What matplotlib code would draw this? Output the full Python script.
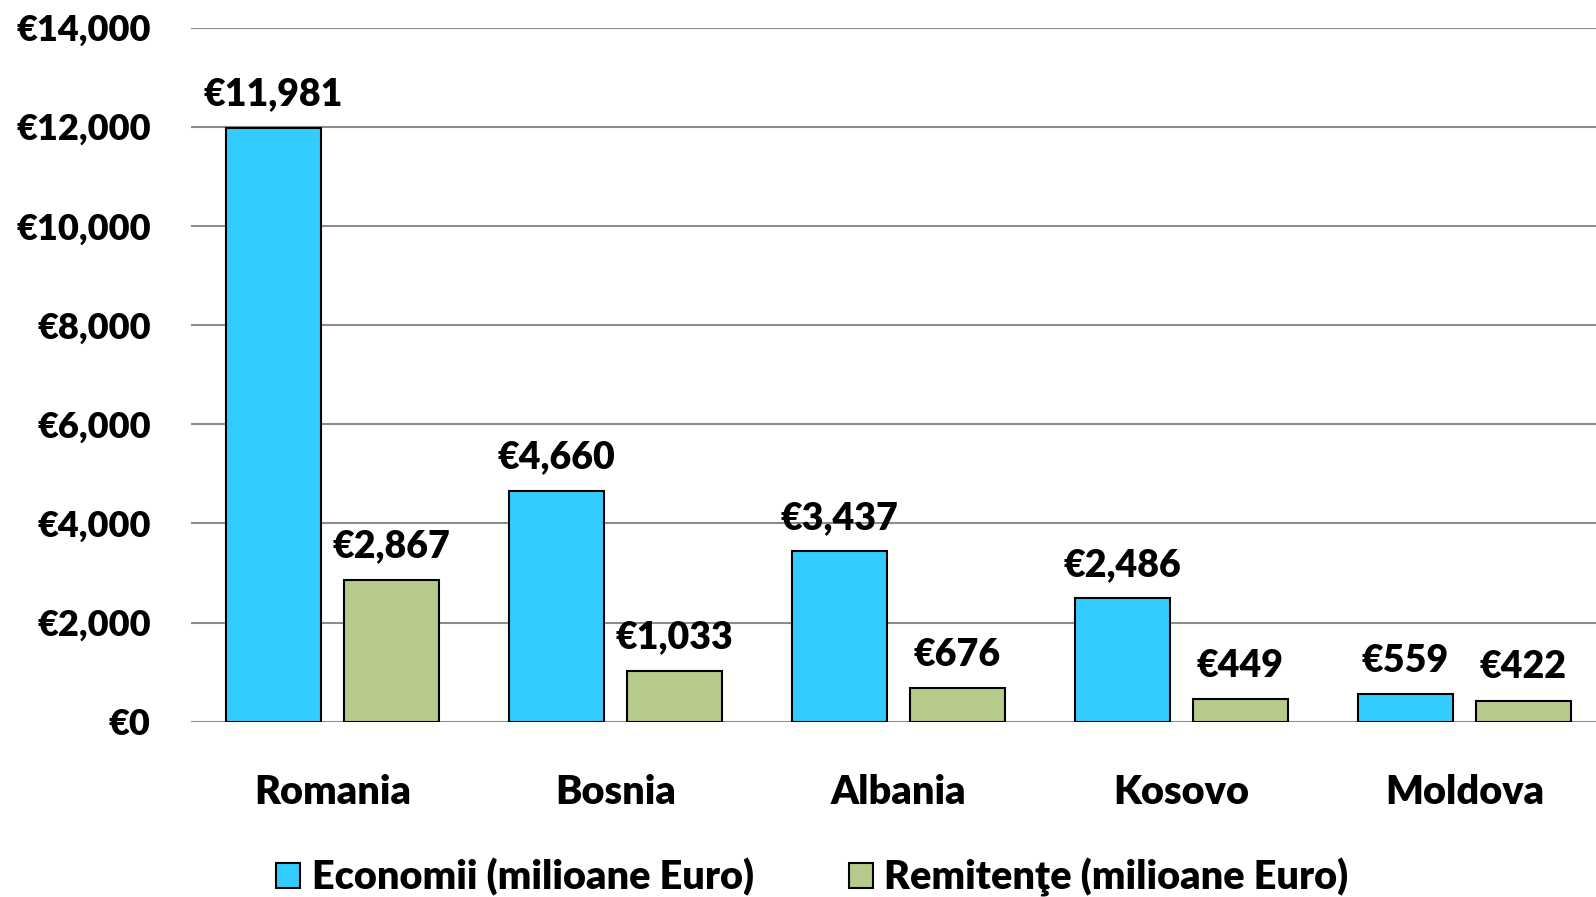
import numpy as np
import matplotlib
matplotlib.use("Agg")
import matplotlib.pyplot as plt
from matplotlib.ticker import FuncFormatter

plt.rcParams['font.family'] = ['Lato', 'DejaVu Sans']
plt.rcParams['font.weight'] = 'heavy'

# date din grafic
tari = ["Romania", "Bosnia", "Albania", "Kosovo", "Moldova"]
economii = [11981, 4660, 3437, 2486, 559]
remitente = [2867, 1033, 676, 449, 422]
etichete_serii = ["Economii (milioane Euro)", "Remitenţe (milioane Euro)"]
y_ticks = [0, 2000, 4000, 6000, 8000, 10000, 12000, 14000]

culoare_albastru = "#33CCFF"
culoare_verde = "#B6CA8B"

fig = plt.figure(figsize=(15.96, 8.97), dpi=100)
ax = fig.add_axes([0.1197, 0.1954, 0.8803, 0.7739])

x = np.arange(len(tari))
latime = 0.335
offset = 0.208

b1 = ax.bar(x - offset, economii, latime, color=culoare_albastru,
            edgecolor="black", linewidth=1.5, label=etichete_serii[0], zorder=3)
b2 = ax.bar(x + offset, remitente, latime, color=culoare_verde,
            edgecolor="black", linewidth=1.5, label=etichete_serii[1], zorder=3)

# etichete cu valori deasupra barelor
for bars in (b1, b2):
    for bar in bars:
        h = bar.get_height()
        ax.text(bar.get_x() + bar.get_width() / 2, h + 330, f"€{h:,.0f}",
                ha="center", va="bottom", fontsize=27, fontweight="heavy")

ax.set_xlim(-0.5, 4.465)
ax.set_ylim(0, 14000)
ax.set_yticks(y_ticks)
ax.yaxis.set_major_formatter(FuncFormatter(lambda v, p: f"€{v:,.0f}"))
ax.set_xticks(x)
ax.set_xticklabels(tari)

ax.grid(axis="y", color="#8c8c8c", linewidth=1.5, zorder=0)
ax.set_axisbelow(True)
for s in ax.spines.values():
    s.set_visible(False)
ax.tick_params(axis="y", length=0, pad=29, labelsize=26)
ax.tick_params(axis="x", length=0, pad=37.5, labelsize=28.5)

fig.legend(handles=[b1, b2], labels=etichete_serii, loc="center",
           bbox_to_anchor=(0.509, 0.022), ncol=2, frameon=False,
           fontsize=28.5, handlelength=0.6, handleheight=0.6,
           handletextpad=0.3, columnspacing=2.4)

fig.savefig("out.png", dpi=100)
